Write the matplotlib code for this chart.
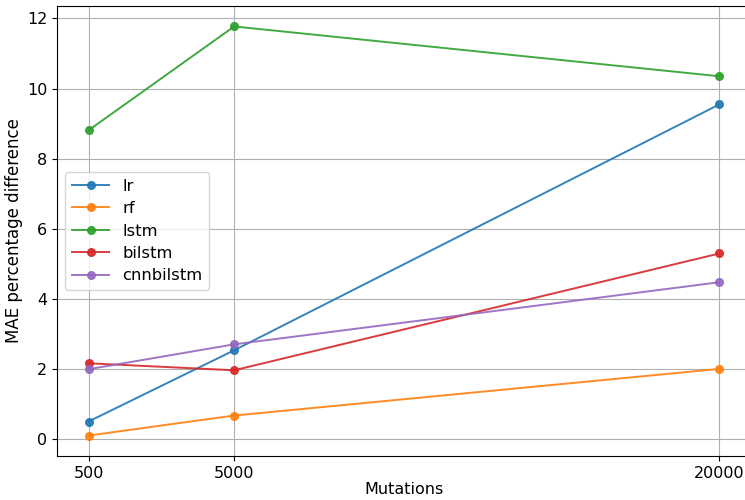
import matplotlib
matplotlib.use("Agg")
import matplotlib.pyplot as plt

# mutation counts on the x axis
mutations = [500, 5000, 20000]

# MAE percentage difference per model
lr = [0.51, 2.54, 9.55]
rf = [0.11, 0.68, 2.01]
lstm = [8.81, 11.77, 10.35]
bilstm = [2.17, 1.97, 5.30]
cnnbilstm = [2.00, 2.71, 4.48]

fig = plt.figure(figsize=(7.45, 5), dpi=100)
ax = fig.add_axes([57 / 745, 44 / 500, 694 / 745, 450 / 500])

for vals, name in [(lr, 'lr'), (rf, 'rf'), (lstm, 'lstm'),
                   (bilstm, 'bilstm'), (cnnbilstm, 'cnnbilstm')]:
    ax.plot(mutations, vals, marker='o', markersize=5.5, linewidth=1.4,
            alpha=0.9, label=name)

ax.set_xticks(mutations)
ax.tick_params(labelsize=11.5)
ax.set_xlabel('Mutations', fontsize=11.5, labelpad=1)
ax.set_ylabel('MAE percentage difference', fontsize=12, labelpad=3)
ax.grid(True)
ax.legend(fontsize=11.8, loc='center left', handlelength=2.3,
          labelspacing=0.45)

fig.savefig('out.png', dpi=100)
